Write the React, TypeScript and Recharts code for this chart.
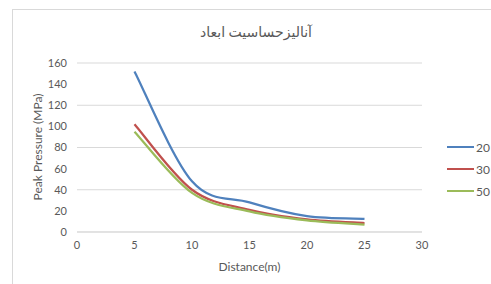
import { CartesianGrid, Label, Legend, Line, LineChart, XAxis, YAxis } from 'recharts'

const distance = [5, 10, 15, 20, 25]
const series20 = [152, 48, 28, 15, 12.5]
const series30 = [102, 40, 21, 12, 8.5]
const series50 = [95, 37, 19.5, 11, 7]

const xTicks = [0, 5, 10, 15, 20, 25, 30]
const yTicks = [0, 20, 40, 60, 80, 100, 120, 140, 160]

const seriesNames = ['20', '30', '50']
const seriesColors = ['#4F81BD', '#C0504D', '#9BBB59']

const chartData = distance.map((d, i) => ({
  distance: d,
  s20: series20[i],
  s30: series30[i],
  s50: series50[i],
}))

const FONT = "Lato, 'DejaVu Sans', sans-serif"
const TEXT = '#595959'

// excel-style smoothing (bezier controls at +/- (next - prev) / 6)
const excelSmooth = (context: any) => {
  let pts: [number, number][] = []
  return {
    areaStart() {},
    areaEnd() {},
    lineStart() {
      pts = []
    },
    point(x: number, y: number) {
      pts.push([+x, +y])
    },
    lineEnd() {
      if (!pts.length) return
      context.moveTo(pts[0][0], pts[0][1])
      for (let i = 0; i < pts.length - 1; i++) {
        const p0 = pts[Math.max(i - 1, 0)]
        const p1 = pts[i]
        const p2 = pts[i + 1]
        const p3 = pts[Math.min(i + 2, pts.length - 1)]
        context.bezierCurveTo(
          p1[0] + (p2[0] - p0[0]) / 6,
          p1[1] + (p2[1] - p0[1]) / 6,
          p2[0] - (p3[0] - p1[0]) / 6,
          p2[1] - (p3[1] - p1[1]) / 6,
          p2[0],
          p2[1]
        )
      }
    },
  }
}

function LegendBox({ payload }: any) {
  return (
    <div style={{ fontFamily: FONT, fontSize: 12, color: TEXT }}>
      {(payload || []).map((entry: any) => (
        <div key={entry.value} style={{ display: 'flex', alignItems: 'center', height: 22 }}>
          <div style={{ width: 27, height: 2, background: entry.color, marginRight: 2 }} />
          <span>{entry.value}</span>
        </div>
      ))}
    </div>
  )
}

export default function App() {
  return (
    <div style={{ position: 'absolute', left: 0, top: 0, width: 491, height: 284, overflow: 'hidden', background: '#fff' }}>
      <div
        style={{
          position: 'absolute',
          left: 12,
          top: 9,
          width: 600,
          height: 400,
          borderLeft: '1px solid #d9d9d9',
          borderTop: '1px solid #d9d9d9',
        }}
      />
      <div
        style={{
          position: 'absolute',
          left: 0,
          width: 512,
          top: 23,
          textAlign: 'center',
          fontFamily: FONT,
          fontSize: 14,
          color: TEXT,
        }}
      >
        آنالیزحساسیت ابعاد
      </div>
      <div style={{ position: 'absolute', left: 0, top: 0 }}>
        <LineChart width={491} height={284} data={chartData} margin={{ top: 63, right: 25, bottom: 22, left: 32 }}>
          <CartesianGrid vertical={false} stroke="#d9d9d9" />
          <XAxis
            dataKey="distance"
            type="number"
            domain={[0, 30]}
            ticks={xTicks}
            height={30}
            axisLine={{ stroke: '#d9d9d9' }}
            tickLine={false}
            tickSize={0}
            tickMargin={9}
            tick={{ fill: TEXT, fontSize: 11, fontFamily: FONT }}
          >
            <Label
              content={() => (
                <text x={249.5} y={266} textAnchor="middle" dominantBaseline="central" fill={TEXT} fontSize={12} fontFamily={FONT}>
                  Distance(m)
                </text>
              )}
            />
          </XAxis>
          <YAxis
            type="number"
            domain={[0, 160]}
            ticks={yTicks}
            width={45}
            axisLine={false}
            tickLine={false}
            tickSize={0}
            tickMargin={10}
            tick={{ fill: TEXT, fontSize: 11, fontFamily: FONT }}
          >
            <Label
              content={() => (
                <text
                  x={37}
                  y={147}
                  transform="rotate(-90 37 147)"
                  textAnchor="middle"
                  dominantBaseline="central"
                  fill={TEXT}
                  fontSize={12}
                  fontFamily={FONT}
                >
                  Peak Pressure (MPa)
                </text>
              )}
            />
          </YAxis>
          <Legend
            layout="vertical"
            align="right"
            verticalAlign="top"
            content={<LegendBox />}
            wrapperStyle={{ left: 447, top: 136, width: 44 }}
          />
          {['s20', 's30', 's50'].map((key, i) => (
            <Line
              key={key}
              dataKey={key}
              name={seriesNames[i]}
              type={excelSmooth as any}
              stroke={seriesColors[i]}
              strokeWidth={2.25}
              dot={false}
              activeDot={false}
              isAnimationActive={false}
            />
          ))}
        </LineChart>
      </div>
    </div>
  )
}
